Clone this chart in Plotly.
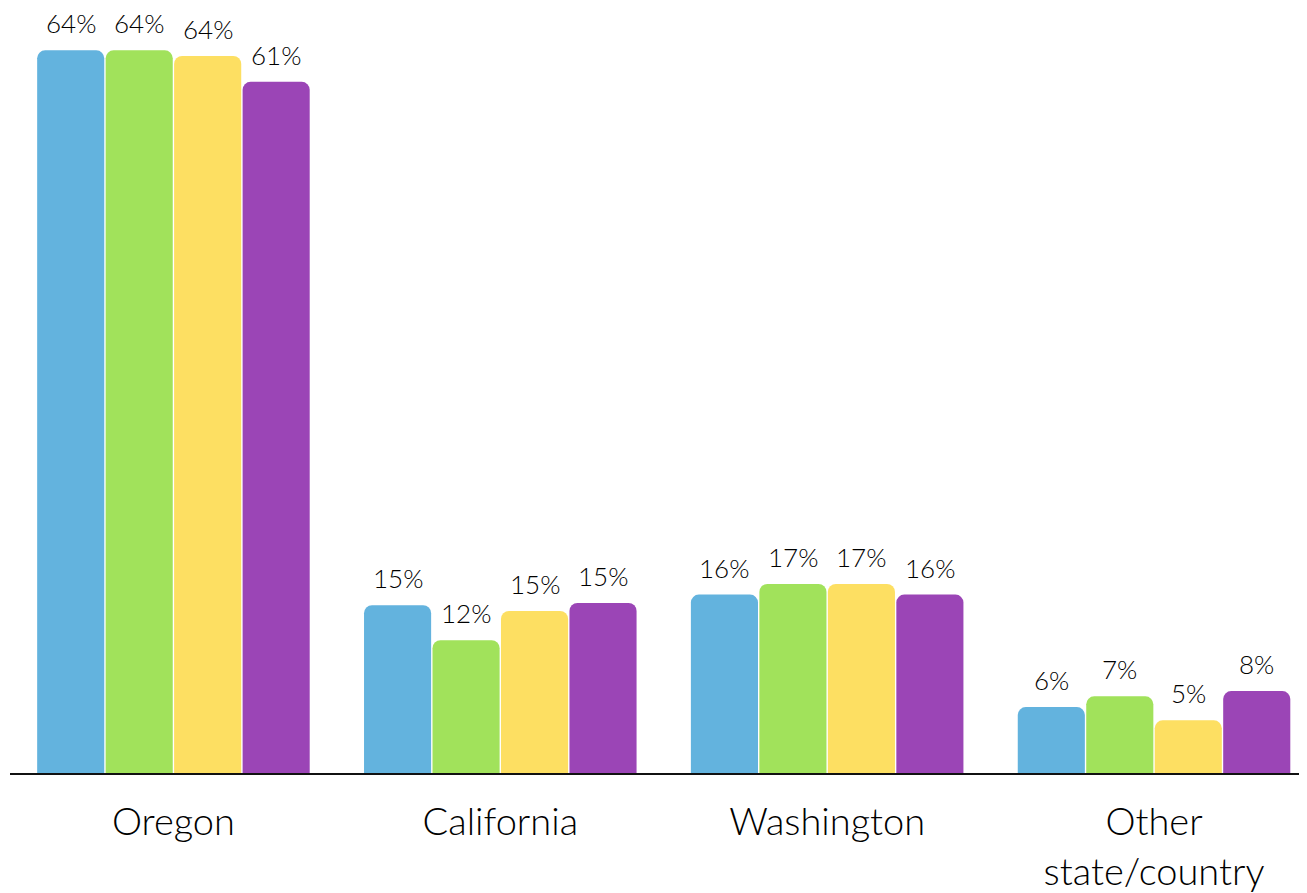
import plotly.graph_objects as go

regions = ['Oregon', 'California', 'Washington', 'Other<br>state/country']

# bar heights, labels as printed on the chart
series = [
    {'values': [64.2, 14.9, 15.85, 5.86], 'labels': ['64%', '15%', '16%', '6%'], 'color': '#63b3de'},
    {'values': [64.2, 11.8, 16.8, 6.81], 'labels': ['64%', '12%', '17%', '7%'], 'color': '#a1e25b'},
    {'values': [63.7, 14.4, 16.8, 4.68], 'labels': ['64%', '15%', '17%', '5%'], 'color': '#fddf62'},
    {'values': [61.4, 15.1, 15.85, 7.28], 'labels': ['61%', '15%', '16%', '8%'], 'color': '#9b45b6'},
]

W, H = 1299, 885
bargap = 0.162
x_range = [-0.5, 3.468]
plot_w = W - 1.5
slot_px = plot_w / (x_range[1] - x_range[0]) * (1 - bargap) / len(series)

fig = go.Figure()
for i, s in enumerate(series):
    fig.add_trace(go.Bar(
        x=regions, y=s['values'],
        marker=dict(color=s['color'], cornerradius=8, line=dict(width=0)),
        showlegend=False, hoverinfo='skip',
    ))
    # value labels sit a bit higher above the bars than plotly's outside text
    for reg, val, lab in zip(regions, s['values'], s['labels']):
        fig.add_annotation(
            x=reg, y=val, text=lab, showarrow=False,
            xshift=(i - 1.5) * slot_px, yshift=9, yanchor='bottom',
            font=dict(size=26, color='#000000', weight=300),
        )

fig.update_layout(
    width=W, height=H,
    barmode='group', bargap=bargap, bargroupgap=0.02,
    plot_bgcolor='white', paper_bgcolor='white',
    font=dict(family='Lato, Noto Sans, sans-serif', color='#000000'),
    margin=dict(l=1.5, r=0, t=0, b=120),
)
fig.update_xaxes(
    range=x_range, showline=True, linecolor='#111111', linewidth=1.5,
    showgrid=False, ticks='', tickfont=dict(size=38, weight=300), ticklabelstandoff=15,
)
fig.update_yaxes(range=[0, 67.96], visible=False, showgrid=False, zeroline=False)

fig.write_html("out.html")
